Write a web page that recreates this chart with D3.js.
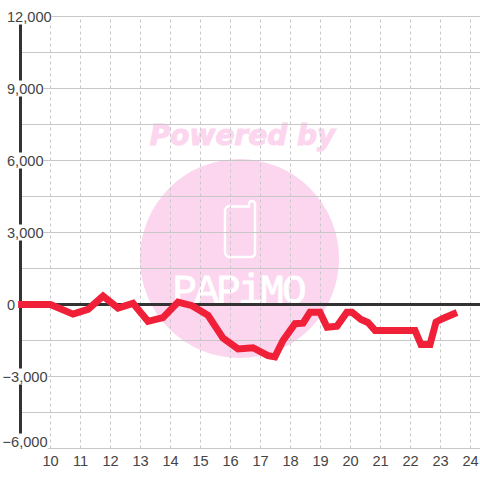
<!DOCTYPE html>
<html>
<head>
<meta charset="utf-8">
<script src="https://cdn.jsdelivr.net/npm/d3@7"></script>
<style>
html, body { margin: 0; padding: 0; background: #fff; }
svg { display: block; }
text { font-family: "Liberation Sans", sans-serif; }
</style>
</head>
<body>
<svg id="chart" width="480" height="480"></svg>
<script>
// hours on the x axis
var hours = [8.92, 10, 10.75, 11.25, 11.75, 12.25, 12.75, 13.25, 13.75, 14.25, 14.72, 15.25, 15.75, 16.25, 16.75, 17.25, 17.48,
    17.75, 18.15, 18.42, 18.65, 18.98, 19.22, 19.55, 19.88, 20.05, 20.35, 20.58, 20.82, 22.15, 22.35, 22.65, 22.85, 23.08, 23.55];
var profit = [0, 0, -400, -200, 350, -150, 50, -700, -550, 100, -50, -450, -1400, -1850, -1800, -2130, -2180,
    -1500, -800, -780, -320, -320, -950, -900, -320, -320, -620, -750, -1080, -1080, -1670, -1670, -730, -580, -330];
var xTicks = [10, 11, 12, 13, 14, 15, 16, 17, 18, 19, 20, 21, 22, 23, 24];
var yGrid = [-6000, -4500, -3000, -1500, 1500, 3000, 4500, 6000, 7500, 9000, 10500, 12000];
var yLabels = [-6000, -3000, 0, 3000, 6000, 9000, 12000];

var svg = d3.select('#chart');
var x = d3.scaleLinear().domain([10, 24]).range([50.5, 470.5]);
var y = d3.scaleLinear().domain([-6000, 12000]).range([448.5, 16.5]);

// watermark goes under the grid
var mark = svg.append('g');
mark.append('text')
    .attr('x', 242.5).attr('y', 145)
    .attr('text-anchor', 'middle')
    .style('font-family', '"DejaVu Sans"')
    .style('font-size', '28px')
    .style('font-weight', 'bold')
    .style('font-style', 'italic')
    .style('fill', '#fbd6ee')
    .style('stroke', '#fbd6ee')
    .style('stroke-width', 1)
    .text('Powered by');
mark.append('circle')
    .attr('cx', 239.5).attr('cy', 258.5).attr('r', 99.5)
    .style('fill', '#fbd6ee');
mark.append('path')
    .attr('d', 'M230 206.5H249V204a3 3 0 0 1 6 0V253a4 4 0 0 1 -4 4H230a5 5 0 0 1 -5 -5V211a5 5 0 0 1 5 -5')
    .style('fill', 'none')
    .style('stroke', '#fff')
    .style('stroke-width', 2.5);
mark.append('text')
    .attr('x', 239.5).attr('y', 303)
    .attr('text-anchor', 'middle')
    .attr('textLength', 134)
    .attr('lengthAdjust', 'spacing')
    .style('font-family', '"Liberation Mono"')
    .style('font-size', '41px')
    .style('fill', '#fff')
    .style('stroke', '#fff')
    .style('stroke-width', 0.8)
    .text('PAPiMO');

// horizontal grid
var gridY = d3.axisLeft(y).offset(0).tickValues(yGrid).tickSize(-460).tickFormat('');
svg.append('g')
    .attr('transform', 'translate(20,0)')
    .call(gridY)
    .call(function (g) { g.select('.domain').remove(); })
    .selectAll('line')
    .style('stroke', '#c8c8c8')
    .style('stroke-width', 1);

// vertical dashed grid
var gridX = d3.axisBottom(x).offset(0).tickValues(xTicks).tickSize(-432).tickFormat('');
svg.append('g')
    .attr('transform', 'translate(0,448.5)')
    .call(gridX)
    .call(function (g) { g.select('.domain').remove(); })
    .selectAll('line')
    .style('stroke', '#c8c8c8')
    .style('stroke-dasharray', '3,3');

// y axis line and zero line
svg.append('line')
    .attr('x1', 20.5).attr('x2', 20.5)
    .attr('y1', y(12000)).attr('y2', y(-6000))
    .style('stroke', '#333').style('stroke-width', 3);
svg.append('line')
    .attr('x1', 20).attr('x2', 480)
    .attr('y1', y(0)).attr('y2', y(0))
    .style('stroke', '#333').style('stroke-width', 3);

// y labels have a white box that cuts the axis line, the lowest one is pushed up
var fmt = d3.format(',');
var labelG = svg.selectAll('.ylabel').data(yLabels).enter().append('g')
    .attr('class', 'ylabel')
    .attr('transform', function (d) {
        return 'translate(' + (d < 0 ? 2.5 : 7) + ',' + (d === -6000 ? y(d) - 7 : y(d)) + ')';
    });
labelG.append('text')
    .attr('dy', '0.35em')
    .style('font-size', '14.6px')
    .style('fill', '#444')
    .text(function (d) { return fmt(d); });
labelG.insert('rect', 'text')
    .each(function () {
        var b = this.parentNode.querySelector('text').getBBox();
        d3.select(this)
            .attr('x', b.x).attr('y', -8)
            .attr('width', b.width).attr('height', 16)
            .style('fill', '#fff');
    });

// x labels
var axisX = d3.axisBottom(x).offset(0).tickValues(xTicks).tickSize(0).tickPadding(7).tickFormat(d3.format('d'));
svg.append('g')
    .attr('transform', 'translate(0,448.5)')
    .call(axisX)
    .call(function (g) { g.select('.domain').remove(); })
    .selectAll('text')
    .style('font-family', '"Liberation Sans"')
    .style('font-size', '14.6px')
    .style('fill', '#444');

// profit line
var line = d3.line()
    .x(function (d) { return x(d[0]); })
    .y(function (d) { return y(d[1]); });
svg.append('path')
    .datum(d3.zip(hours, profit))
    .attr('d', line)
    .style('fill', 'none')
    .style('stroke', '#f02038')
    .style('stroke-width', 7);
</script>
</body>
</html>
